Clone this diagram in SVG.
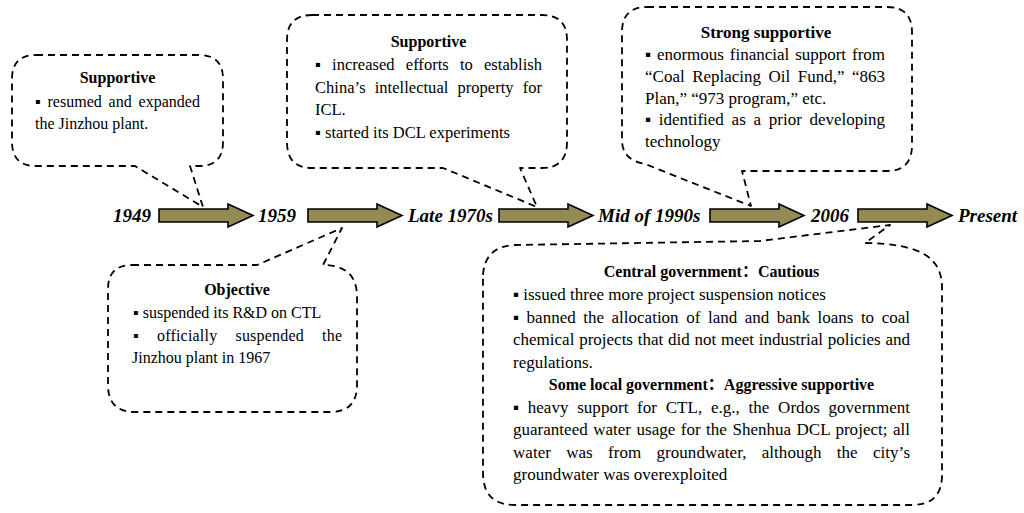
<svg xmlns="http://www.w3.org/2000/svg" xmlns:xlink="http://www.w3.org/1999/xlink" width="1024" height="513" viewBox="0 0 1024 513">
<style>
text{font-family:"Liberation Serif","Times New Roman","Noto Sans CJK SC",serif;fill:#000}
.lbl{font-weight:bold;font-style:italic;font-size:19px}
.h16{font-weight:bold;font-size:16px;text-anchor:middle}
.h17{font-weight:bold;font-size:17px;text-anchor:middle}
.t16{font-size:16px}
.t165{font-size:16.5px}
.t17{font-size:17px}
.call{fill:#fff;stroke:#000;stroke-width:1.8;stroke-dasharray:7 5;stroke-linejoin:round}
.arr{fill:#948A54;stroke:#000;stroke-width:1.6;stroke-linejoin:miter}
</style>
<defs>
<path id="arrowShape" d="M0,-6.5 H69 V-11.5 L94,0 L69,11.5 V6.5 H0 Z"/>
</defs>
<rect width="1024" height="513" fill="#fff"/>

<g id="connectors">
<use xlink:href="#arrowShape" href="#arrowShape" class="arr" transform="translate(159,215.5)"/>
<use xlink:href="#arrowShape" href="#arrowShape" class="arr" transform="translate(308,215.5)"/>
<use xlink:href="#arrowShape" href="#arrowShape" class="arr" transform="translate(499,215.5)"/>
<use xlink:href="#arrowShape" href="#arrowShape" class="arr" transform="translate(710,215.5)"/>
<use xlink:href="#arrowShape" href="#arrowShape" class="arr" transform="translate(858,215.5)"/>
</g>

<g id="timeline-labels">
<text class="lbl" x="113" y="221.5">1949</text>
<text class="lbl" x="258" y="221.5">1959</text>
<text class="lbl" x="408" y="221.5">Late 1970s</text>
<text class="lbl" x="598" y="221.5">Mid of 1990s</text>
<text class="lbl" x="811" y="221.5">2006</text>
<text class="lbl" x="958" y="221.5">Present</text>
</g>

<g id="callout-1949">
<path class="call" d="M36,55 H199 Q223,55 223,79 V142 Q223,166 199,166 H190 L203,207 L135,166 H36 Q12,166 12,142 V79 Q12,55 36,55 Z"/>
<text class="h16" x="117.5" y="83">Supportive</text>
<text class="t16" x="35" y="106.5" word-spacing="2.7" textLength="165" lengthAdjust="spacing">▪ resumed and expanded</text>
<text class="t16" x="35" y="128.5">the Jinzhou plant.</text>
</g>

<g id="callout-1959">
<path class="call" d="M132,265 H257 L342,228 L323,265 Q357,265 357,297 V385 Q357,412 330,412 H135 Q108,412 108,385 V289 Q108,265 132,265 Z"/>
<text class="h16" x="237" y="295">Objective</text>
<text class="t16" x="133" y="318">▪ suspended its R&amp;D on CTL</text>
<text class="t16" x="133" y="340.5" word-spacing="14" textLength="209" lengthAdjust="spacing">▪ officially suspended the</text>
<text class="t16" x="132" y="363">Jinzhou plant in 1967</text>
</g>

<g id="callout-1970s">
<path class="call" d="M312,15 H542 Q567,15 567,40 V142 Q567,168 542,168 H520 L537,207 L443,168 H312 Q287,168 287,142 V40 Q287,15 312,15 Z"/>
<text class="h16" x="428.5" y="47">Supportive</text>
<text class="t165" x="315" y="70" word-spacing="7" textLength="227" lengthAdjust="spacing">▪ increased efforts to establish</text>
<text class="t165" x="315" y="92.5" word-spacing="5" textLength="227" lengthAdjust="spacing">China’s intellectual property for</text>
<text class="t165" x="315" y="115">ICL.</text>
<text class="t165" x="315" y="137.5">▪ started its DCL experiments</text>
</g>

<g id="callout-1990s">
<path class="call" d="M647,7 H887 Q912,7 912,32 V145 Q912,171 887,171 H742 L751,206 L645,164 Q622,160 622,140 V32 Q622,7 647,7 Z"/>
<text class="h17" x="766" y="38">Strong supportive</text>
<text class="t17" x="645" y="60" word-spacing="1.7" textLength="240" lengthAdjust="spacing">▪ enormous financial support from</text>
<text class="t17" x="645" y="82" word-spacing="3.2" textLength="240" lengthAdjust="spacing">“Coal Replacing Oil Fund,” “863</text>
<text class="t17" x="645" y="103.5">Plan,” “973 program,” etc.</text>
<text class="t17" x="645" y="125" word-spacing="3.5" textLength="240" lengthAdjust="spacing">▪ identified as a prior developing</text>
<text class="t17" x="645" y="147">technology</text>
</g>

<g id="callout-2006">
<path class="call" d="M483,275 Q485,246 515,245 L760,241 L890,225 L865,243 C922,244 942,258 942,288 V475 Q942,505 912,505 H515 Q483,505 483,473 Z"/>
<text class="h16" x="711.5" y="277">Central government：Cautious</text>
<text class="t17" x="513" y="300">▪ issued three more project suspension notices</text>
<text class="t17" x="513" y="322.5" word-spacing="3.3" textLength="397" lengthAdjust="spacing">▪ banned the allocation of land and bank loans to coal</text>
<text class="t17" x="513" y="345" word-spacing="0.5" textLength="397" lengthAdjust="spacing">chemical projects that did not meet industrial policies and</text>
<text class="t17" x="513" y="367.5">regulations.</text>
<text class="h16" x="711.5" y="390">Some local government：Aggressive supportive</text>
<text class="t17" x="513" y="412.5" word-spacing="4.4" textLength="397" lengthAdjust="spacing">▪ heavy support for CTL, e.g., the Ordos government</text>
<text class="t17" x="513" y="435" word-spacing="1.2" textLength="397" lengthAdjust="spacing">guaranteed water usage for the Shenhua DCL project; all</text>
<text class="t17" x="513" y="457.5" word-spacing="11" textLength="397" lengthAdjust="spacing">water was from groundwater, although the city’s</text>
<text class="t17" x="513" y="480">groundwater was overexploited</text>
</g>
</svg>
